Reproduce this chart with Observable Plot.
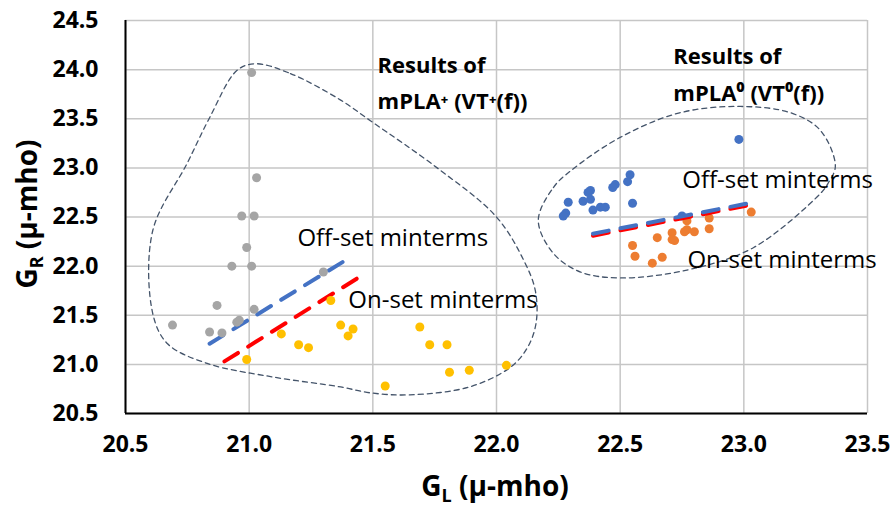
<!DOCTYPE html>
<html><head><meta charset="utf-8">
<script src="https://cdn.jsdelivr.net/npm/d3@7"></script>
<script src="https://cdn.jsdelivr.net/npm/@observablehq/plot@0.6"></script>
<style>body{margin:0;background:#fff}#chart svg{display:block}</style>
</head><body><div id="chart"></div>
<script>
// VT+(f) results (mPLA+)
const offPlusGL = [21.01,21.03,20.97,21.02,20.99,20.93,21.01,21.30,20.87,21.02,20.69,20.95,20.96,20.84,20.89];
const offPlusGR = [23.97,22.90,22.51,22.51,22.19,22.00,22.00,21.94,21.60,21.56,21.40,21.43,21.45,21.33,21.32];
const onPlusGL  = [21.33,21.13,21.37,21.42,21.40,21.20,21.24,20.99,21.55,21.69,21.73,21.80,21.81,21.89,22.04];
const onPlusGR  = [21.65,21.31,21.40,21.36,21.29,21.20,21.17,21.05,20.78,21.38,21.20,21.20,20.92,20.94,20.99];
// VT0(f) results (mPLA0)
const offZeroGL = [22.98,22.54,22.53,22.48,22.47,22.38,22.37,22.29,22.35,22.38,22.55,22.39,22.42,22.44,22.28,22.27,22.75];
const offZeroGR = [23.29,22.93,22.86,22.83,22.80,22.77,22.75,22.65,22.66,22.68,22.64,22.57,22.60,22.60,22.54,22.51,22.51];
const onZeroGL  = [23.03,22.86,22.86,22.77,22.77,22.76,22.80,22.71,22.71,22.72,22.65,22.55,22.56,22.67,22.63];
const onZeroGR  = [22.55,22.49,22.38,22.46,22.37,22.35,22.35,22.34,22.27,22.26,22.29,22.21,22.10,22.09,22.03];
// linear trendlines (end points)
const trendOffPlusGL = [20.84, 21.39], trendOffPlusGR = [21.21, 22.06];
const trendOnPlusGL  = [20.90, 21.44], trendOnPlusGR  = [21.03, 21.88];
const trendOnZeroGL  = [22.39, 23.02], trendOnZeroGR  = [22.31, 22.62];
const trendOffZeroGL = [22.39, 23.02], trendOffZeroGR = [22.33, 22.64];
// hand-drawn grouping outlines (data units)
const blobPlusGL = [21.025,21.167,21.37,21.49,21.76,22.00,22.11,22.157,22.16,22.125,22.056,21.89,21.65,21.49,21.37,21.10,20.83,20.67,20.61,20.61,20.75,20.84,20.95];
const blobPlusGR = [24.06,23.96,23.69,23.48,23.00,22.50,22.06,21.75,21.42,21.17,20.97,20.77,20.69,20.71,20.77,20.87,21.01,21.21,21.52,22.36,23.05,23.51,23.99];
const blobZeroGL = [22.169,22.23,22.30,22.50,22.74,22.986,23.19,23.31,23.37,23.34,23.31,23.04,22.77,22.50,22.34,22.23];
const blobZeroGR = [22.465,22.80,22.97,23.31,23.56,23.625,23.56,23.38,23.02,22.84,22.74,22.19,21.96,21.88,21.94,22.13];
// ticks
const xTicks = [20.5,21.0,21.5,22.0,22.5,23.0,23.5];
const yTicks = [20.5,21.0,21.5,22.0,22.5,23.0,23.5,24.0,24.5];
// annotations
const labels = [
  {gl:21.519, gr:24.042, text:"Results of", bold:true},
  {gl:21.519, gr:23.666, text:"mPLA\u207A (VT\u207A(f))", bold:true},
  {gl:22.715, gr:24.124, text:"Results of", bold:true},
  {gl:22.715, gr:23.757, text:"mPLA\u2070 (VT\u2070(f))", bold:true},
  {gl:21.195, gr:22.282, text:"Off-set minterms", bold:false},
  {gl:21.401, gr:21.652, text:"On-set minterms", bold:false},
  {gl:22.751, gr:22.872, text:"Off-set minterms", bold:false},
  {gl:22.772, gr:22.058, text:"On-set minterms", bold:false}
];

const pts = (gl, gr) => gl.map((d, i) => ({gl: d, gr: gr[i]}));
const FONT = "'Open Sans', Lato, sans-serif";

const plot = Plot.plot({
  width: 891, height: 511,
  marginLeft: 125, marginRight: 24, marginTop: 20, marginBottom: 98,
  style: {fontFamily: FONT, background: "#fff", overflow: "visible"},
  x: {domain: [20.5, 23.5], ticks: xTicks, label: null},
  y: {domain: [20.5, 24.5], ticks: yTicks, label: null},
  marks: [
    Plot.gridX(xTicks, {stroke: "#c6c6c6", strokeOpacity: 1, strokeWidth: 1.5}),
    Plot.gridY(yTicks, {stroke: "#c6c6c6", strokeOpacity: 1, strokeWidth: 1.5}),
    Plot.ruleX([20.5], {stroke: "#000", strokeWidth: 2}),
    Plot.ruleY([20.5], {stroke: "#000", strokeWidth: 2}),
    Plot.axisX(xTicks, {tickSize: 0, tickPadding: 22, tickFormat: d3.format(".1f"), fontSize: 23, fontWeight: "bold", fill: "#000"}),
    Plot.axisY(yTicks, {tickSize: 0, tickPadding: 27, tickFormat: d3.format(".1f"), fontSize: 23, fontWeight: "bold", fill: "#000"}),
    Plot.line(pts(blobPlusGL, blobPlusGR), {x: "gl", y: "gr", curve: "catmull-rom-closed", stroke: "#44546A", strokeWidth: 1.3, strokeDasharray: "5,4"}),
    Plot.line(pts(blobZeroGL, blobZeroGR), {x: "gl", y: "gr", curve: "catmull-rom-closed", stroke: "#44546A", strokeWidth: 1.3, strokeDasharray: "5,4"}),
    Plot.line(pts(trendOnPlusGL, trendOnPlusGR), {x: "gl", y: "gr", stroke: "#FF0000", strokeWidth: 4, strokeDasharray: "16,12"}),
    Plot.line(pts(trendOffPlusGL, trendOffPlusGR), {x: "gl", y: "gr", stroke: "#4472C4", strokeWidth: 4, strokeDasharray: "16,12"}),
    Plot.dot(pts(offPlusGL, offPlusGR), {x: "gl", y: "gr", r: 4.5, fill: "#A5A5A5"}),
    Plot.dot(pts(onPlusGL, onPlusGR), {x: "gl", y: "gr", r: 4.5, fill: "#FFC000"}),
    Plot.dot(pts(offZeroGL, offZeroGR), {x: "gl", y: "gr", r: 4.5, fill: "#4472C4"}),
    Plot.dot(pts(onZeroGL, onZeroGR), {x: "gl", y: "gr", r: 4.5, fill: "#ED7D31"}),
    Plot.line(pts(trendOnZeroGL, trendOnZeroGR), {x: "gl", y: "gr", stroke: "#FF0000", strokeWidth: 4, strokeDasharray: "16,12"}),
    Plot.line(pts(trendOffZeroGL, trendOffZeroGR), {x: "gl", y: "gr", stroke: "#4472C4", strokeWidth: 4, strokeDasharray: "16,12"}),
    Plot.text(labels.filter(d => d.bold), {x: "gl", y: "gr", text: "text", textAnchor: "start", fontSize: 22, fontWeight: "bold", fill: "#000"}),
    Plot.text(labels.filter(d => !d.bold), {x: "gl", y: "gr", text: "text", textAnchor: "start", fontSize: 24, fill: "#000"})
  ]
});

const svg = d3.select(plot);
const xt = svg.append("text").attr("x", 495).attr("y", 496).attr("text-anchor", "middle")
  .style("font-family", FONT).style("font-size", "28px").style("font-weight", "bold").attr("fill", "#000");
xt.append("tspan").text("G");
xt.append("tspan").attr("dy", 6).style("font-size", "18px").text("L");
xt.append("tspan").attr("dy", -6).text(" (\u03BC-mho)");
const yt = svg.append("text").attr("transform", "translate(37,214) rotate(-90)").attr("text-anchor", "middle")
  .style("font-family", FONT).style("font-size", "28px").style("font-weight", "bold").attr("fill", "#000");
yt.append("tspan").text("G");
yt.append("tspan").attr("dy", 6).style("font-size", "18px").text("R");
yt.append("tspan").attr("dy", -6).text(" (\u03BC-mho)");

document.getElementById("chart").append(plot);
</script>
</body></html>
